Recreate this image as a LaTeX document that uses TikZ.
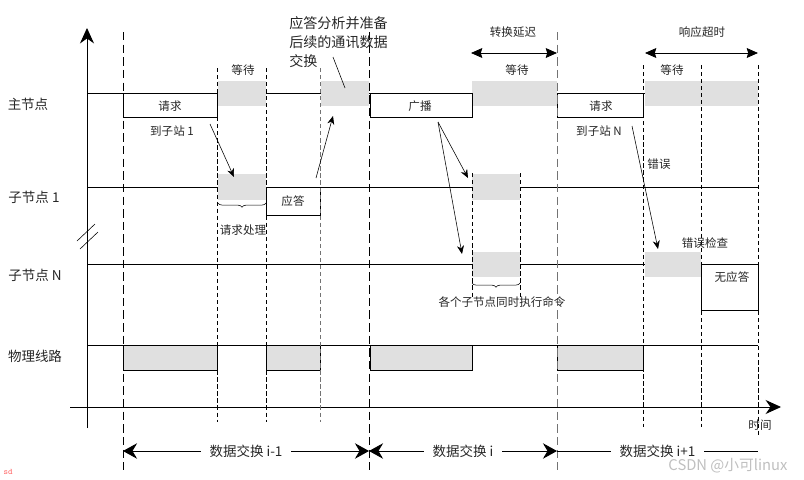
\documentclass[tikz,border=0pt]{standalone}
\usepackage{fontspec}
\setmainfont{Noto Sans CJK SC}
\usepackage{tikz}
\usetikzlibrary{arrows.meta,decorations.pathreplacing,positioning}

\begin{document}
\begin{tikzpicture}[x=0.025cm, y=-0.025cm,
        lbl/.style={font=\fontsize{8.2}{10}\selectfont, text=black!85, inner sep=1pt},
        rowlbl/.style={font=\fontsize{9.6}{12}\selectfont, text=black!85, inner sep=1pt},
        waitbox/.style={fill=black!12, draw=none},
        msgbox/.style={draw, fill=white, semithick},
        busybox/.style={draw, fill=black!12, semithick},
        sigline/.style={semithick},
        minordash/.style={thin, dash pattern=on 3pt off 2pt},
        phasedash/.style={semithick, dash pattern=on 6pt off 3pt},
        axis/.style={semithick, -{Stealth[length=11pt,width=10pt]}},
        arrow/.style={thin, -{Stealth[length=6pt,width=5pt]}},
        spanarrow/.style={semithick, {Stealth[length=8pt,width=7pt,inset=1pt]}-{Stealth[length=8pt,width=7pt,inset=1pt]}},
        xchg/.style={semithick, {Stealth[length=10pt,width=11pt]}-{Stealth[length=10pt,width=11pt]}}]

        \useasboundingbox (0,0) rectangle (804,480);

        % Axes
        \coordinate (ybot) at (87,428);
        \coordinate (ytop) at (87,28);
        \coordinate (xleft) at (70,407);
        \coordinate (xright) at (781,407);
        \draw[axis] (ybot) -- (ytop);
        \draw[axis] (xleft) -- (xright);
        \draw[thin] (77,241) -- (95,224);
        \draw[thin] (80,249) -- (98,232);
        \node[lbl] (time) at (760,425) {时间};

        % Signal lines
        \foreach \y in {93,187,264,345}
            \draw[sigline] (87,\y) -- (758,\y);

        % Row labels
        \node[rowlbl] (master) at (28,104) {主节点};
        \node[rowlbl] (slave1) at (34,197) {子节点 1};
        \node[rowlbl] (slaveN) at (35,275) {子节点 N};
        \node[rowlbl] (bus) at (35,356) {物理线路};

        % Waiting / processing
        \fill[waitbox] (218,81) rectangle (266,106);
        \fill[waitbox] (321,81) rectangle (369,106);
        \fill[waitbox] (472,81) rectangle (557,106);
        \fill[waitbox] (645,81) rectangle (758,106);
        \fill[waitbox] (218,174) rectangle (266,200);
        \fill[waitbox] (472,174) rectangle (520,200);
        \fill[waitbox] (472,252) rectangle (520,277);
        \fill[waitbox] (645,252) rectangle (701,277);

        % Frames
        \draw[msgbox] (123,93) rectangle (217,117);
        \draw[msgbox] (370,93) rectangle (472,117);
        \draw[msgbox] (557,93) rectangle (643,117);
        \draw[msgbox] (266,187) rectangle (320,215);
        \draw[msgbox] (701,264) rectangle (758,310);
        \draw[busybox] (123,345) rectangle (217,370);
        \draw[busybox] (266,345) rectangle (320,370);
        \draw[busybox] (370,345) rectangle (472,370);
        \draw[busybox] (557,345) rectangle (643,370);

        % Time marks
        \foreach \x in {123,369}
            \draw[phasedash] (\x,32) -- (\x,470);
        \draw[phasedash, black!55] (557,32) -- (557,470);
        \foreach \x in {217,266}
            \draw[minordash] (\x,68) -- (\x,422);
        \draw[minordash, black!55] (320,68) -- (320,422);
        \foreach \x in {643,701}
            \draw[minordash] (\x,65) -- (\x,427);
        \draw[minordash] (758,65) -- (758,435);
        \foreach \x in {472,520}
            \draw[minordash] (\x,173) -- (\x,297);

        % Braces
        \draw[thin, decorate, decoration={brace, mirror, amplitude=3pt}] (218,203) -- (266,203);
        \draw[thin, decorate, decoration={brace, mirror, amplitude=3pt}] (472,283) -- (520,283);

        % Texts
        \node[lbl] (req1) at (170,106) {请求};
        \node[lbl] (to1) at (172,131) {到子站 1};
        \node[lbl] (wait1) at (243,70) {等待};
        \node[anchor=west, align=left, inner sep=0pt, font=\fontsize{10}{13.4}\selectfont, text=black!85]
            (analyse) at (289,42) {应答分析并准备\\后续的通讯数据\\交换};
        \node[lbl] (ack) at (293,201) {应答};
        \node[lbl] (proc) at (243,230) {请求处理};
        \node[lbl] (bcast) at (420,106) {广播};
        \node[lbl] (delay) at (513,32) {转换延迟};
        \node[lbl] (wait2) at (517,70) {等待};
        \node[lbl] (exec) at (502,302) {各个子节点同时执行命令};
        \node[lbl] (reqN) at (601,106) {请求};
        \node[lbl] (toN) at (599,131) {到子站 N};
        \node[lbl] (timeout) at (702,32) {响应超时};
        \node[lbl] (wait3) at (672,70) {等待};
        \node[lbl] (err) at (659,164) {错误};
        \node[lbl] (errchk) at (705,243) {错误检查};
        \node[lbl] (noack) at (732,277) {无应答};

        % Arrows
        \coordinate (a1s) at (210,124);
        \coordinate (a1e) at (234,177);
        \draw[arrow] (a1s) -- (a1e);
        \coordinate (a2s) at (316,178);
        \coordinate (a2e) at (333,116);
        \draw[arrow] (a2s) -- (a2e);
        \coordinate (n1s) at (333,57);
        \coordinate (n1e) at (345,88);
        \draw[thin] (n1s) -- (n1e);
        \coordinate (bs) at (438,122);
        \coordinate (b1e) at (468,178);
        \coordinate (b2e) at (462,254);
        \draw[arrow] (bs) -- (b1e);
        \draw[arrow] (bs) -- (b2e);
        \coordinate (ans) at (632,126);
        \coordinate (ane) at (658,249);
        \draw[arrow] (ans) -- (ane);

        % Spans
        \coordinate (dl0) at (471,53);
        \coordinate (dl1) at (557,53);
        \draw[spanarrow] (dl0) -- (dl1);
        \coordinate (to0) at (645,53);
        \coordinate (to1r) at (758,53);
        \draw[spanarrow] (to0) -- (to1r);

        % Data exchanges
        \coordinate (ex0) at (123,451);
        \coordinate (ex1) at (369,451);
        \coordinate (ex2) at (557,451);
        \coordinate (ex3) at (758,451);
        \draw[xchg] (ex0) -- node[rowlbl, fill=white, inner xsep=6pt] (xchg1) {数据交换 i-1} (ex1);
        \draw[xchg] (ex1) -- node[rowlbl, fill=white, inner xsep=6pt] (xchg2) {数据交换 i} (ex2);
        \draw[xchg, -] (ex2) -- node[rowlbl, fill=white, inner xsep=6pt] (xchg3) {数据交换 i+1} (ex3);

        % Marks
        \node[font=\fontsize{10.5}{12}\selectfont, text=black!25, inner sep=0pt] (mark) at (728,466) {CSDN @小可linux};
        \node[font=\ttfamily\fontsize{6}{7}\selectfont, text=red!60] (sd) at (8,472) {sd};

    \end{tikzpicture}
\end{document}
